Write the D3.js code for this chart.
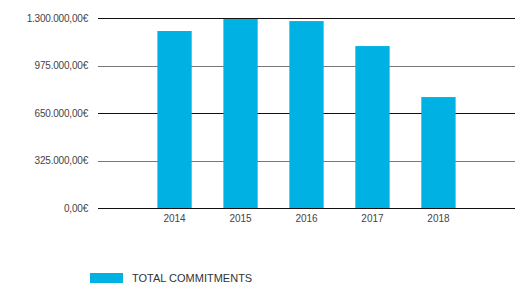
<!DOCTYPE html>
<html>
<head>
<meta charset="utf-8">
<script src="https://cdn.jsdelivr.net/npm/d3@7"></script>
<style>
  body { margin: 0; background: #fff; }
  text { font-family: "Liberation Sans", Arial, sans-serif; }
</style>
</head>
<body>
<script>
const years = ['2014', '2015', '2016', '2017', '2018'];
const commitments = [1211000, 1293000, 1279000, 1108000, 759000];
const yTicks = [0, 325000, 650000, 975000, 1300000];
const seriesName = 'TOTAL COMMITMENTS';

const width = 515;
const height = 286;
const plot = { left: 98, right: 515, top: 18, bottom: 208 };

const svg = d3.select('body').append('svg')
  .attr('width', width)
  .attr('height', height);

const x = d3.scaleBand()
  .domain(years)
  .range([plot.left, plot.right])
  .paddingInner(0.48)
  .paddingOuter(0.9);

const y = d3.scaleLinear()
  .domain([0, 1300000])
  .range([plot.bottom, plot.top]);

const euro = (v) => {
  const parts = v.toFixed(2).split('.');
  return parts[0].replace(/\B(?=(\d{3})+(?!\d))/g, '.') + ',' + parts[1] + '€';
};

// gridlines, alternating dark and grey
svg.append('g')
  .selectAll('line')
  .data(yTicks)
  .enter()
  .append('line')
  .attr('x1', plot.left)
  .attr('x2', plot.right)
  .attr('y1', (d) => Math.round(y(d)) + 0.5)
  .attr('y2', (d) => Math.round(y(d)) + 0.5)
  .attr('stroke', (d, i) => i % 2 === 0 ? '#111' : '#777')
  .attr('stroke-width', 1.2);

const yAxis = svg.append('g')
  .attr('transform', `translate(${plot.left}, 0)`)
  .call(d3.axisLeft(y).tickValues(yTicks).tickFormat(euro).tickSize(0).tickPadding(10));
yAxis.select('.domain').remove();
yAxis.selectAll('text')
  .attr('fill', '#444')
  .style('font-size', '10px')
  .style('letter-spacing', '-0.2px');

svg.append('g')
  .selectAll('rect')
  .data(commitments)
  .enter()
  .append('rect')
  .attr('fill', '#00b2e3')
  .attr('x', (d, i) => x(years[i]))
  .attr('width', x.bandwidth())
  .attr('y', (d) => y(d))
  .attr('height', (d) => y(0) - y(d));

const xAxis = svg.append('g')
  .attr('transform', `translate(0, ${plot.bottom})`)
  .call(d3.axisBottom(x).tickSize(0).tickPadding(7));
xAxis.select('.domain').remove();
xAxis.selectAll('text')
  .attr('fill', '#444')
  .style('font-size', '10px');

const legend = svg.append('g')
  .attr('transform', 'translate(90, 273)');
legend.append('rect')
  .attr('width', 33)
  .attr('height', 10)
  .attr('fill', '#00b2e3');
legend.append('text')
  .attr('x', 42)
  .attr('y', 9)
  .attr('fill', '#333')
  .style('font-size', '11px')
  .text(seriesName);
</script>
</body>
</html>
